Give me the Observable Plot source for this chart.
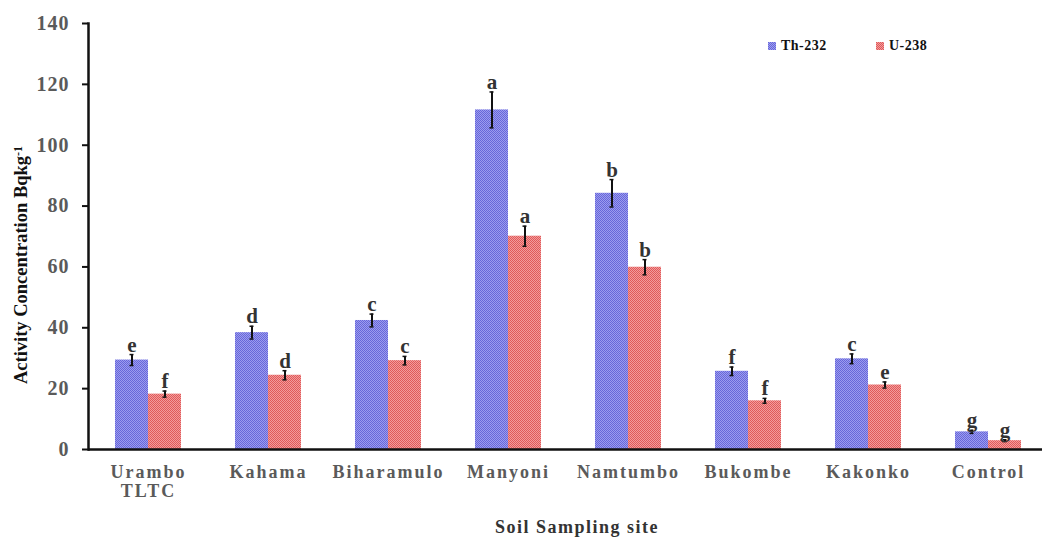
<!DOCTYPE html>
<html>
<head>
<meta charset="utf-8">
<script src="https://cdn.jsdelivr.net/npm/d3@7"></script>
<script src="https://cdn.jsdelivr.net/npm/@observablehq/plot@0.6"></script>
<style>
  html, body { margin: 0; padding: 0; background: #fff; }
  #chart { width: 1042px; height: 538px; }
  svg g[aria-label="fx-axis tick label"] text { letter-spacing: 2px; }
  svg g[aria-label="y-axis tick label"] text { letter-spacing: 1px; }
</style>
</head>
<body>
<div id="chart"></div>
<script>
// Sampling sites (x categories)
const sites = ["Urambo\nTLTC", "Kahama", "Biharamulo", "Manyoni", "Namtumbo", "Bukombe", "Kakonko", "Control"];
const seriesNames = ["Th-232", "U-238"];

// Mean activity concentrations (Bq/kg) and standard errors
const th232 = [29.4, 38.4, 42.4, 111.6, 84.2, 25.7, 29.8, 5.8];
const th232Err = [1.8, 2.1, 2.1, 5.9, 4.5, 1.4, 1.6, 0.5];
const u238 = [18.2, 24.4, 29.2, 70.1, 59.9, 16.0, 21.2, 2.9];
const u238Err = [1.0, 1.5, 1.4, 3.3, 2.5, 0.8, 1.0, 0.3];

// Significance group letters
const th232Letters = ["e", "d", "c", "a", "b", "f", "c", "g"];
const u238Letters = ["f", "d", "c", "a", "b", "f", "e", "g"];

const yTicks = [0, 20, 40, 60, 80, 100, 120, 140];

const rows = [];
sites.forEach((site, i) => {
  rows.push({site, series: seriesNames[0], value: th232[i], err: th232Err[i], letter: th232Letters[i]});
  rows.push({site, series: seriesNames[1], value: u238[i], err: u238Err[i], letter: u238Letters[i]});
});

const fills = {"Th-232": "url(#pat-th)", "U-238": "url(#pat-u)"};

const plot = Plot.plot({
  width: 1042,
  height: 538,
  marginLeft: 84,
  marginRight: 0,
  marginTop: 23,
  marginBottom: 89,
  style: {fontFamily: "'Liberation Serif', 'Times New Roman', serif", fontWeight: "bold", background: "#fff"},
  fx: {domain: sites, range: [86, 1050], padding: 0, label: null},
  x: {domain: seriesNames, paddingInner: 0, paddingOuter: 0.77, axis: null},
  y: {domain: [0, 140], label: null},
  marks: [
    Plot.barY(rows, {fx: "site", x: "series", y: "value", fill: d => fills[d.series]}),
    Plot.ruleX(rows, {fx: "site", x: "series", y1: d => d.value - d.err, y2: d => d.value + d.err, stroke: "#111", strokeWidth: 2}),
    Plot.tickY(rows, {fx: "site", x: "series", y: d => d.value + d.err, inset: 14.5, stroke: "#111", strokeWidth: 1.5}),
    Plot.tickY(rows, {fx: "site", x: "series", y: d => d.value - d.err, inset: 14.5, stroke: "#111", strokeWidth: 1.5}),
    Plot.text(rows, {fx: "site", x: "series", y: d => d.value + d.err, text: "letter", dy: -3, lineAnchor: "bottom", fontSize: 21, fill: "#333"}),
    Plot.ruleY([0], {stroke: "#111", strokeWidth: 2.5}),
    Plot.frame({anchor: "left", facetAnchor: "left", stroke: "#111", strokeWidth: 2.5}),
    Plot.axisY({ticks: yTicks, tickSize: 6, tickPadding: 13, fontSize: 20, fill: "#5a5a5a", stroke: "#111", strokeWidth: 2, label: null, tickFormat: d => d}),
    Plot.axisFx({anchor: "bottom", tickSize: 0, tickPadding: 14, fontSize: 18, lineHeight: 1.1, fill: "#5a5a5a", label: null})
  ]
});

const svg = d3.select(plot);

// Fine checkered textures for the two series
const defs = svg.insert("defs", ":first-child");
function texture(id, base, dot) {
  const p = defs.append("pattern").attr("id", id).attr("patternUnits", "userSpaceOnUse")
    .attr("width", 2).attr("height", 2);
  p.append("rect").attr("width", 2).attr("height", 2).attr("fill", base);
  p.append("rect").attr("width", 1).attr("height", 1).attr("fill", dot);
  p.append("rect").attr("x", 1).attr("y", 1).attr("width", 1).attr("height", 1).attr("fill", dot);
}
texture("pat-th", "#9c9cef", "#6767d9");
texture("pat-u", "#f39c9c", "#df5a5a");

// Y axis title with superscript unit
const yTitle = svg.append("text")
  .attr("transform", "translate(27,265) rotate(-90)")
  .attr("text-anchor", "middle")
  .attr("font-size", 18.5)
  .attr("fill", "#111");
yTitle.append("tspan").text("Activity Concentration Bqkg");
yTitle.append("tspan").attr("dy", "-0.45em").attr("font-size", 12).text("-1");

// X axis title
svg.append("text")
  .attr("x", 577).attr("y", 533)
  .attr("text-anchor", "middle")
  .attr("font-size", 18)
  .attr("letter-spacing", "1.5px")
  .attr("fill", "#333")
  .text("Soil Sampling site");

// Legend
const legend = svg.append("g")
  .attr("font-size", 14)
  .attr("fill", "#111")
  .attr("text-anchor", "start")
  .attr("letter-spacing", "0.5px");
const legendItems = [
  {name: seriesNames[0], x: 768},
  {name: seriesNames[1], x: 876}
];
legendItems.forEach(item => {
  legend.append("rect").attr("x", item.x).attr("y", 42).attr("width", 8).attr("height", 8).attr("fill", fills[item.name]);
  legend.append("text").attr("x", item.x + 13).attr("y", 50).text(item.name);
});

document.getElementById("chart").appendChild(plot);
</script>
</body>
</html>
